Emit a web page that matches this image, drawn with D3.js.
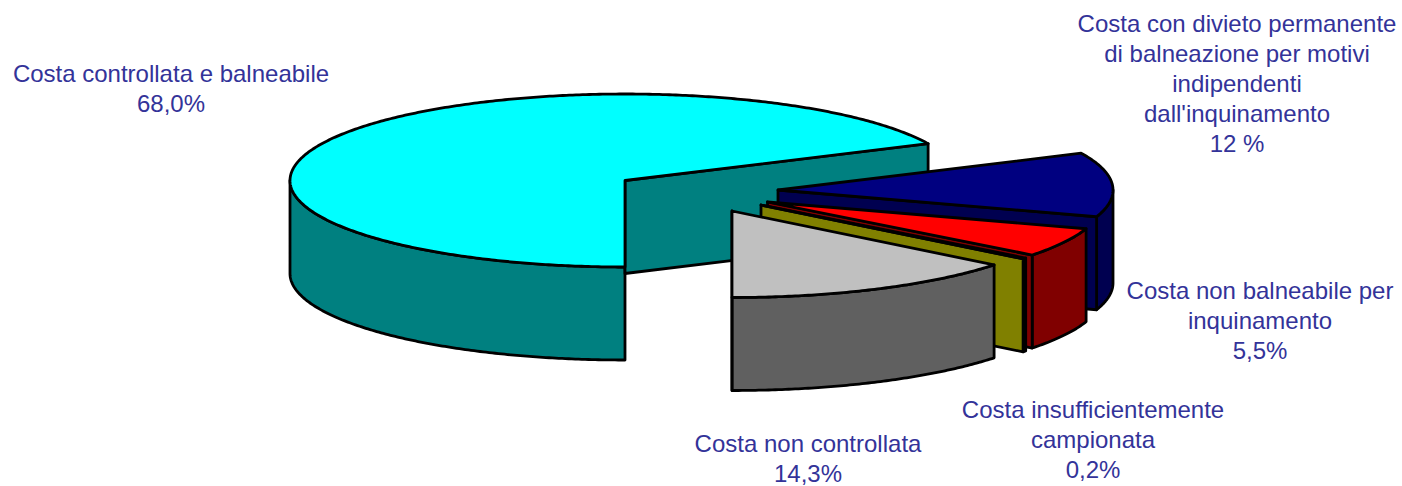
<!DOCTYPE html>
<html>
<head>
<meta charset="utf-8">
<script src="https://cdnjs.cloudflare.com/ajax/libs/d3/7.8.5/d3.min.js"></script>
<style>
html,body{margin:0;padding:0;background:#fff;overflow:hidden}
svg{display:block}
text{font-family:"Liberation Sans",Arial,sans-serif;font-size:24px;fill:#333399;text-anchor:middle}
</style>
</head>
<body>
<svg id="chart" width="1402" height="486"></svg>
<script>
const categories = ["Costa controllata e balneabile","Costa con divieto permanente di balneazione per motivi indipendenti dall'inquinamento","Costa non balneabile per inquinamento","Costa insufficientemente campionata","Costa non controllata"];
const values = [68.0, 12.0, 5.5, 0.2, 14.3];
const valueLabels = ["68,0%","12 %","5,5%","0,2%","14,3%"];
const labelLines = [
  ["Costa controllata e balneabile"],
  ["Costa con divieto permanente","di balneazione per motivi","indipendenti","dall'inquinamento"],
  ["Costa non balneabile per","inquinamento"],
  ["Costa insufficientemente","campionata"],
  ["Costa non controllata"]
];
const topColors = ["#00FFFF","#000080","#FF0000","#808000","#C0C0C0"];
const sideColors = ["#008080","#000050","#800000","#808000","#606060"];
const centerX = [625,778,767.5,761,732];
const centerY = [180.5,190,202,205,211];
const labelX = [171,1237,1260,1093,808];
const labelY = [82,32,299,418,452];

const W=1402,H=486, rx=335, ry=86.5, depth=93, lineH=30;
const svg=d3.select("#chart");
const pie=d3.pie().sort(null).startAngle(Math.PI).endAngle(3*Math.PI);
const arcs=pie(values);
const line=d3.line();
const scaleX=d3.scaleLinear().domain([-1,1]).range([-rx,rx]);
const scaleY=d3.scaleLinear().domain([-1,1]).range([-ry,ry]);
const px=(i,a)=>centerX[i]+scaleX(Math.sin(a));
const py=(i,a)=>centerY[i]+scaleY(-Math.cos(a));
function rim(i,a0,a1){
  const n=Math.max(2,Math.ceil(Math.abs(a1-a0)/0.01));
  return d3.range(n+1).map(k=>{const a=a0+(a1-a0)*k/n;return [px(i,a),py(i,a)];});
}
const stroke=(sel)=>sel.attr("stroke","#000").attr("stroke-width",2.8).attr("stroke-linejoin","round");

arcs.forEach((d,i)=>{
  const g=svg.append("g");
  const lo=Math.max(d.startAngle,Math.PI/2), hi=Math.min(d.endAngle,1.5*Math.PI);
  const spans=[[lo,hi],[Math.max(d.startAngle,2.5*Math.PI),Math.min(d.endAngle,3.5*Math.PI)]];
  spans.forEach(([a,b])=>{
    if(b<=a) return;
    const r=rim(i,a,b);
    const pts=r.concat(r.slice().reverse().map(p=>[p[0],p[1]+depth]));
    stroke(g.append("path").attr("d",line(pts)+"Z").attr("fill",sideColors[i]));
  });
  const cx=centerX[i],cy=centerY[i],e=d.endAngle;
  if(Math.sin(e)>0){
    const pts=[[cx,cy],[px(i,e),py(i,e)],[px(i,e),py(i,e)+depth],[cx,cy+depth]];
    stroke(g.append("path").attr("d",line(pts)+"Z").attr("fill",sideColors[i]));
  }
  const top=[[cx,cy]].concat(rim(i,d.startAngle,d.endAngle));
  stroke(g.append("path").attr("d",line(top)+"Z").attr("fill",topColors[i]));
});

labelLines.forEach((lines,i)=>{
  const t=svg.append("text").attr("x",labelX[i]).attr("y",labelY[i]);
  lines.concat([valueLabels[i]]).forEach((s,k)=>{
    t.append("tspan").attr("x",labelX[i]).attr("y",labelY[i]+k*lineH).text(s);
  });
});
</script>
</body>
</html>
